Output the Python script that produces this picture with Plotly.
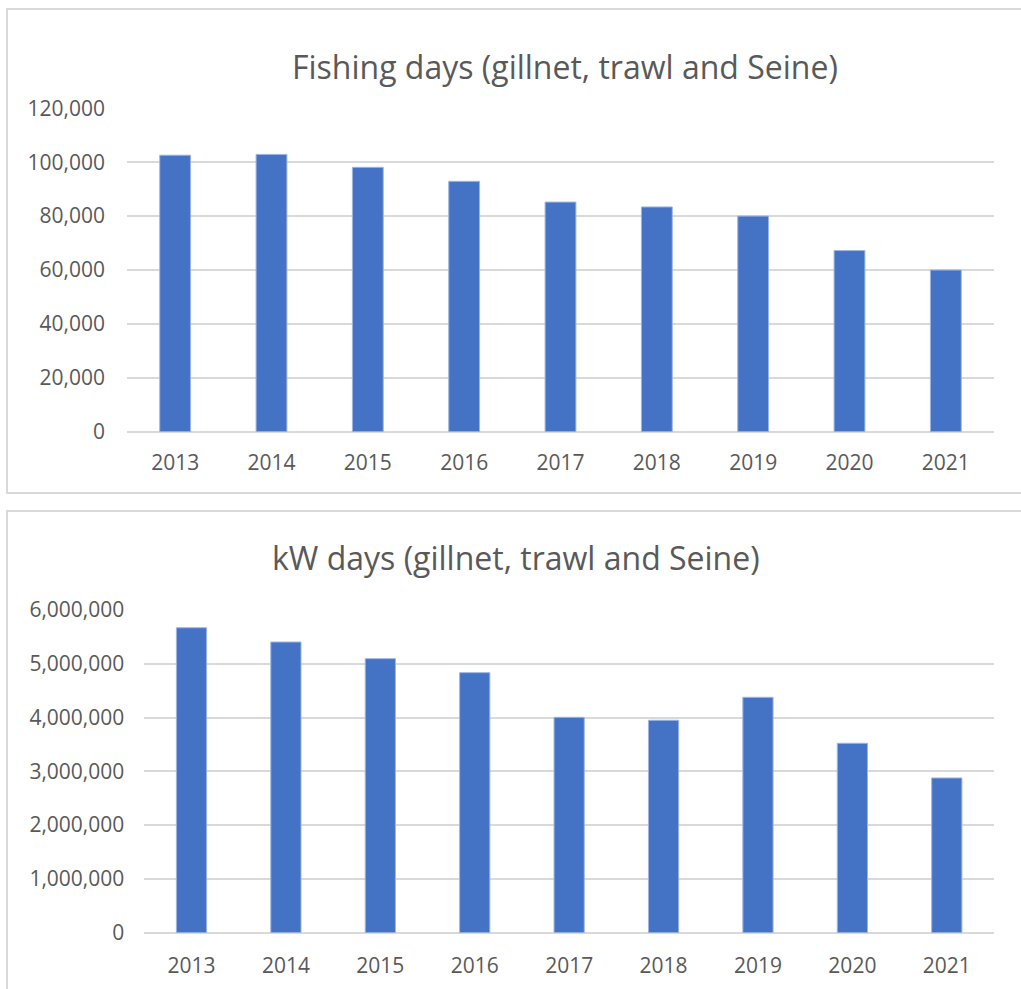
import plotly.graph_objects as go

years = ["2013", "2014", "2015", "2016", "2017", "2018", "2019", "2020", "2021"]
fishing_days = [102600, 102900, 98100, 92900, 85200, 83400, 80000, 67200, 60000]
kw_days = [5670000, 5405000, 5095000, 4835000, 4005000, 3950000, 4377000, 3522000, 2877000]

title_top = "Fishing days (gillnet, trawl and Seine)"
title_bottom = "kW days (gillnet, trawl and Seine)"

W, H = 1021, 989
BAR = "#4472C4"
GRID = "#D9D9D9"
TXT = "#595959"
FONT = "Open Sans"

def px(x):
    return x / W

def py(y):
    return 1 - y / H

fig = go.Figure()
fig.add_trace(go.Bar(x=years, y=fishing_days, marker=dict(color=BAR, line=dict(color="#9DB5E3", width=1)),
                     xaxis="x", yaxis="y", hoverinfo="skip"))
fig.add_trace(go.Bar(x=years, y=kw_days, marker=dict(color=BAR, line=dict(color="#9DB5E3", width=1)),
                     xaxis="x2", yaxis="y2", hoverinfo="skip"))

axis_font = dict(family=FONT, size=21, color=TXT)

fig.update_layout(
    width=W, height=H,
    margin=dict(l=0, r=0, t=0, b=0),
    paper_bgcolor="white", plot_bgcolor="white",
    showlegend=False,
    bargap=0.68,
    font=dict(family=FONT, color=TXT),
    xaxis=dict(domain=[px(127), px(994)], anchor="y", showgrid=False, showline=False,
               tickfont=axis_font, ticks="", ticklabelstandoff=16, automargin=False, fixedrange=True),
    yaxis=dict(domain=[py(431.7), py(108.3)], anchor="x", range=[0, 120000], dtick=20000,
               tickformat=",d", showgrid=True, gridcolor=GRID, gridwidth=2,
               zeroline=True, zerolinecolor=GRID, zerolinewidth=2,
               tickfont=axis_font, ticks="", ticklabelstandoff=21, automargin=False, fixedrange=True),
    xaxis2=dict(domain=[px(144.3), px(994)], anchor="y2", showgrid=False, showline=False,
                tickfont=axis_font, ticks="", ticklabelstandoff=18, automargin=False, fixedrange=True),
    yaxis2=dict(domain=[py(932.7), py(610)], anchor="x2", range=[0, 6000000], dtick=1000000,
                tickformat=",d", showgrid=True, gridcolor=GRID, gridwidth=2,
                zeroline=True, zerolinecolor=GRID, zerolinewidth=2,
                tickfont=axis_font, ticks="", ticklabelstandoff=19, automargin=False, fixedrange=True),
    shapes=[
        dict(type="rect", xref="paper", yref="paper", x0=px(7), x1=px(1030), y0=py(493), y1=py(9),
             line=dict(color=GRID, width=2), fillcolor="rgba(0,0,0,0)", layer="below"),
        dict(type="rect", xref="paper", yref="paper", x0=px(7), x1=px(1030), y0=py(1000), y1=py(511),
             line=dict(color=GRID, width=2), fillcolor="rgba(0,0,0,0)", layer="below"),
    ],
    annotations=[
        dict(text=title_top, xref="paper", yref="paper", x=px(565), y=py(67), xanchor="center",
             yanchor="middle", showarrow=False, font=dict(family=FONT, size=32, color=TXT)),
        dict(text=title_bottom, xref="paper", yref="paper", x=px(516), y=py(557), xanchor="center",
             yanchor="middle", showarrow=False, font=dict(family=FONT, size=32, color=TXT)),
    ],
)

fig.write_html("out.html", config={"displayModeBar": False},
               post_script="document.body.style.margin='0';document.body.style.overflow='hidden';")
